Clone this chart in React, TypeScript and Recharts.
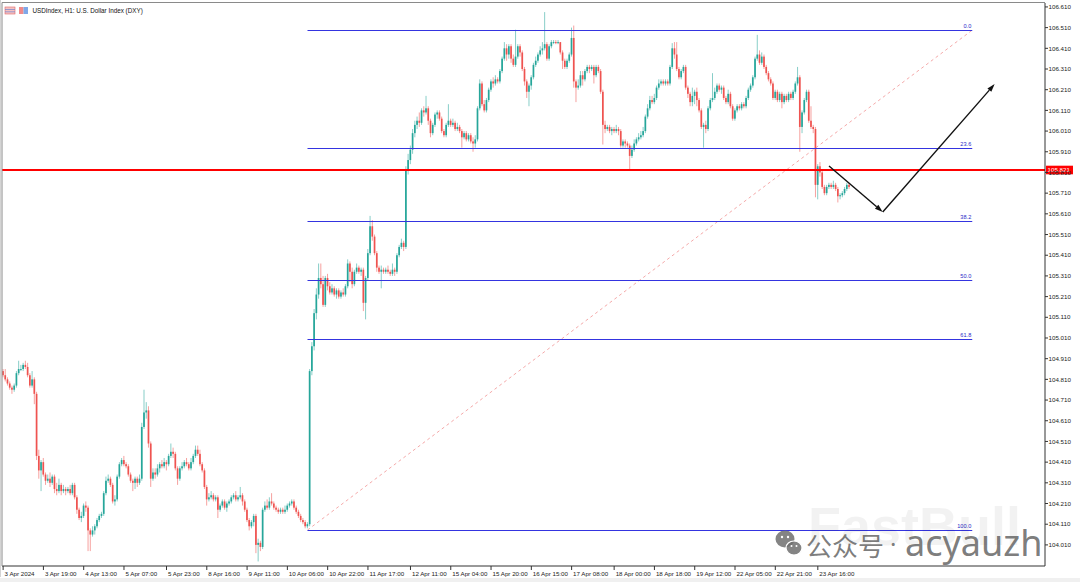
import React from 'react';
import { ComposedChart, Bar, XAxis, YAxis, ReferenceLine } from 'recharts';

// ---- OHLC data (H1 bars) ----
const opens = [
104.85,104.83,104.81,104.79,104.77,104.76,104.78,104.84,104.86,104.86,
104.88,104.87,104.83,104.78,104.81,104.74,104.44,104.37,104.41,104.35,
104.32,104.33,104.31,104.34,104.28,104.27,104.30,104.27,104.28,104.27,
104.28,104.26,104.30,104.24,104.18,104.14,104.15,104.20,104.19,104.08,
104.06,104.08,104.10,104.13,104.15,104.16,104.26,104.32,104.33,104.30,
104.22,104.23,104.34,104.40,104.42,104.40,104.39,104.35,104.32,104.31,
104.33,104.31,104.33,104.58,104.65,104.66,104.50,104.33,104.36,104.35,
104.38,104.40,104.39,104.41,104.40,104.44,104.46,104.45,104.38,104.33,
104.38,104.39,104.41,104.40,104.38,104.41,104.44,104.47,104.45,104.40,
104.37,104.29,104.23,104.24,104.25,104.23,104.24,104.18,104.20,104.22,
104.19,104.21,104.22,104.24,104.25,104.23,104.24,104.25,104.22,104.18,
104.13,104.10,104.12,104.15,104.01,104.02,104.00,104.18,104.20,104.19,
104.22,104.21,104.19,104.18,104.17,104.18,104.17,104.18,104.20,104.21,
104.22,104.19,104.17,104.15,104.13,104.12,104.10,104.11,104.85,104.97,
105.13,105.22,105.30,105.27,105.17,105.30,105.26,105.23,105.25,105.22,
105.24,105.21,105.23,105.22,105.26,105.37,105.33,105.27,105.33,105.35,
105.33,105.34,105.18,105.30,105.42,105.55,105.50,105.42,105.35,105.33,
105.34,105.33,105.34,105.33,105.32,105.34,105.33,105.41,105.45,105.47,
105.45,105.82,105.87,105.92,106.00,106.04,106.06,106.05,106.11,106.10,
106.12,106.06,106.00,106.04,106.09,106.10,106.07,106.01,105.99,106.04,
106.06,106.04,106.05,106.02,106.03,106.01,105.98,106.00,105.97,105.99,
105.96,105.95,105.97,106.12,106.24,106.14,106.11,106.16,106.21,106.25,
106.24,106.26,106.25,106.30,106.36,106.41,106.38,106.42,106.36,106.33,
106.37,106.42,106.39,106.31,106.25,106.20,106.23,106.27,106.33,106.35,
106.38,106.40,106.41,106.43,106.36,106.42,106.44,106.44,106.435,106.44,
106.39,106.35,106.32,106.35,106.38,106.46,106.25,106.22,106.23,106.28,
106.26,106.30,106.32,106.31,106.32,106.28,106.32,106.30,106.20,106.04,
106.02,106.03,106.01,106.02,106.01,106.02,106.01,105.94,105.96,105.95,
105.94,105.89,105.92,105.95,105.97,105.98,105.99,106.01,106.08,106.12,
106.16,106.15,106.17,106.22,106.24,106.25,106.24,106.25,106.24,106.32,
106.41,106.38,106.31,106.27,106.30,106.32,106.22,106.19,106.15,106.18,
106.20,106.16,106.11,106.03,106.04,106.02,106.12,106.16,106.17,106.20,
106.23,106.21,106.22,106.17,106.15,106.19,106.13,106.07,106.11,106.13,
106.12,106.14,106.13,106.17,106.21,106.23,106.27,106.36,106.38,106.34,
106.37,106.32,106.29,106.26,106.24,106.17,106.20,106.16,106.19,106.15,
106.18,106.16,106.19,106.17,106.20,106.24,106.27,106.03,106.10,106.16,
106.20,106.06,106.03,106.02,105.75,105.84,105.81,105.74,105.71,105.74,
105.75,105.74,105.75,105.73,105.695,105.70,105.71,105.73,105.75,
];
const highs = [
104.86,104.86,104.82,104.80,104.78,104.79,104.85,104.90,104.88,104.89,
104.90,104.89,104.84,104.85,104.82,104.75,104.47,104.42,104.43,104.36,
104.35,104.36,104.35,104.35,104.31,104.33,104.31,104.30,104.29,104.29,
104.30,104.31,104.31,104.25,104.19,104.17,104.21,104.22,104.20,104.09,
104.10,104.11,104.14,104.16,104.17,104.27,104.34,104.35,104.34,104.31,
104.25,104.35,104.41,104.43,104.44,104.41,104.40,104.36,104.33,104.34,
104.34,104.35,104.60,104.76,104.70,104.68,104.51,104.38,104.38,104.40,
104.41,104.42,104.43,104.42,104.45,104.50,104.48,104.46,104.39,104.39,
104.41,104.42,104.43,104.41,104.43,104.45,104.49,104.49,104.47,104.41,
104.38,104.30,104.26,104.27,104.26,104.25,104.25,104.21,104.23,104.23,
104.22,104.23,104.25,104.26,104.27,104.25,104.29,104.26,104.23,104.19,
104.14,104.13,104.16,104.16,104.04,104.03,104.19,104.22,104.23,104.24,
104.26,104.22,104.20,104.19,104.19,104.19,104.20,104.21,104.22,104.23,
104.23,104.20,104.18,104.16,104.14,104.13,104.12,104.86,104.99,105.15,
105.25,105.37,105.37,105.31,105.31,105.32,105.28,105.27,105.26,105.25,
105.25,105.24,105.25,105.27,105.39,105.38,105.35,105.34,105.37,105.36,
105.35,105.35,105.31,105.44,105.60,105.58,105.51,105.43,105.36,105.36,
105.35,105.35,105.36,105.34,105.37,105.35,105.42,105.46,105.49,105.48,
105.84,105.90,105.94,106.02,106.06,106.08,106.10,106.12,106.13,106.18,
106.13,106.07,106.05,106.10,106.11,106.11,106.08,106.02,106.05,106.14,
106.07,106.07,106.06,106.05,106.04,106.02,106.01,106.01,106.00,106.00,
105.98,105.99,106.13,106.26,106.25,106.16,106.17,106.22,106.26,106.27,
106.28,106.27,106.31,106.37,106.44,106.43,106.43,106.43,106.38,106.50,
106.43,106.43,106.40,106.32,106.26,106.24,106.28,106.34,106.37,106.39,
106.42,106.44,106.585,106.44,106.43,106.45,106.45,106.45,106.45,106.44,
106.40,106.36,106.36,106.39,106.51,106.52,106.26,106.26,106.30,106.30,
106.31,106.33,106.33,106.33,106.33,106.33,106.33,106.31,106.21,106.06,
106.04,106.04,106.03,106.03,106.04,106.03,106.02,105.97,105.97,105.96,
105.95,105.94,105.97,105.98,106.00,106.01,106.03,106.09,106.14,106.18,
106.18,106.19,106.23,106.26,106.26,106.26,106.26,106.26,106.33,106.435,
106.44,106.44,106.32,106.31,106.33,106.33,106.23,106.20,106.22,106.21,
106.22,106.17,106.12,106.05,106.06,106.13,106.17,106.29,106.22,106.24,
106.24,106.23,106.23,106.18,106.21,106.20,106.14,106.12,106.14,106.14,
106.15,106.15,106.18,106.22,106.24,106.28,106.37,106.475,106.40,106.39,
106.38,106.33,106.30,106.27,106.25,106.21,106.21,106.20,106.20,106.19,
106.19,106.20,106.20,106.21,106.25,106.32,106.28,106.11,106.17,106.21,
106.21,106.13,106.04,106.03,105.85,105.86,105.82,105.75,105.75,105.76,
105.76,105.77,105.76,105.74,105.71,105.72,105.74,105.76,105.76,
];
const lows = [
104.82,104.80,104.78,104.76,104.74,104.75,104.77,104.83,104.85,104.85,
104.86,104.82,104.77,104.77,104.69,104.42,104.33,104.27,104.34,104.30,
104.31,104.29,104.30,104.26,104.25,104.26,104.25,104.26,104.25,104.26,
104.25,104.25,104.23,104.16,104.13,104.12,104.14,104.17,103.98,103.98,
104.05,104.06,104.09,104.12,104.14,104.15,104.25,104.31,104.29,104.21,
104.20,104.22,104.33,104.39,104.39,104.38,104.34,104.31,104.27,104.28,
104.29,104.30,104.32,104.57,104.62,104.48,104.29,104.32,104.33,104.34,
104.36,104.38,104.38,104.37,104.39,104.43,104.43,104.37,104.30,104.32,
104.37,104.38,104.39,104.37,104.37,104.40,104.43,104.44,104.39,104.36,
104.28,104.20,104.22,104.23,104.22,104.22,104.14,104.17,104.19,104.18,
104.17,104.20,104.21,104.23,104.22,104.22,104.23,104.20,104.17,104.12,
104.08,104.09,104.10,103.97,103.93,103.98,103.99,104.17,104.18,104.18,
104.20,104.18,104.17,104.16,104.16,104.16,104.16,104.17,104.19,104.20,
104.18,104.16,104.14,104.12,104.11,104.09,104.09,104.10,104.83,104.95,
105.10,105.20,105.25,105.16,105.16,105.24,105.22,105.22,105.21,105.20,
105.20,105.20,105.21,105.21,105.25,105.28,105.25,105.26,105.32,105.32,
105.31,105.14,105.10,105.29,105.41,105.48,105.41,105.33,105.32,105.25,
105.32,105.32,105.32,105.31,105.31,105.31,105.32,105.40,105.44,105.43,
105.44,105.80,105.85,105.90,105.98,106.02,106.03,106.04,106.08,106.09,
106.04,105.98,105.99,106.03,106.07,106.06,106.00,105.98,105.98,106.03,
106.03,106.03,106.01,106.01,106.00,105.93,105.97,105.96,105.96,105.95,
105.91,105.93,105.96,106.11,106.13,106.10,106.10,106.15,106.20,106.22,
106.23,106.24,106.24,106.29,106.35,106.35,106.36,106.34,106.32,106.32,
106.36,106.37,106.30,106.23,106.17,106.13,106.21,106.26,106.32,106.34,
106.37,106.38,106.40,106.35,106.35,106.41,106.43,106.43,106.43,106.38,
106.31,106.31,106.31,106.34,106.37,106.22,106.15,106.21,106.22,106.23,
106.25,106.29,106.29,106.30,106.24,106.27,106.29,106.19,105.945,106.00,
106.01,106.00,105.99,106.00,106.00,105.99,105.93,105.93,105.93,105.93,
105.825,105.88,105.91,105.94,105.96,105.97,105.98,106.00,106.07,106.11,
106.14,106.14,106.16,106.21,106.23,106.23,106.23,106.23,106.23,106.31,
106.36,106.30,106.26,106.26,106.29,106.21,106.17,106.13,106.13,106.14,
106.13,106.10,106.02,105.93,106.00,106.01,106.11,106.15,106.16,106.19,
106.20,106.19,106.16,106.14,106.14,106.12,106.06,106.06,106.10,106.11,
106.11,106.12,106.12,106.16,106.20,106.22,106.26,106.35,106.33,106.33,
106.31,106.28,106.25,106.23,106.16,106.16,106.15,106.15,106.12,106.14,
106.15,106.15,106.16,106.16,106.19,106.23,105.91,106.00,106.09,106.15,
106.05,106.02,106.00,105.69,105.68,105.79,105.73,105.70,105.70,105.73,
105.73,105.73,105.72,105.665,105.68,105.69,105.70,105.72,105.73,
];
const closes = [
104.83,104.81,104.79,104.77,104.76,104.78,104.84,104.86,104.86,104.88,
104.87,104.83,104.78,104.81,104.74,104.44,104.37,104.41,104.35,104.32,
104.33,104.31,104.34,104.28,104.27,104.30,104.27,104.28,104.27,104.28,
104.26,104.30,104.24,104.18,104.14,104.15,104.20,104.19,104.08,104.06,
104.08,104.10,104.13,104.15,104.16,104.26,104.32,104.33,104.30,104.22,
104.23,104.34,104.40,104.42,104.40,104.39,104.35,104.32,104.31,104.33,
104.31,104.33,104.58,104.65,104.66,104.50,104.33,104.36,104.35,104.38,
104.40,104.39,104.41,104.40,104.44,104.46,104.45,104.38,104.33,104.38,
104.39,104.41,104.40,104.38,104.41,104.44,104.47,104.45,104.40,104.37,
104.29,104.23,104.24,104.25,104.23,104.24,104.18,104.20,104.22,104.19,
104.21,104.22,104.24,104.25,104.23,104.24,104.25,104.22,104.18,104.13,
104.10,104.12,104.15,104.01,104.02,104.00,104.18,104.20,104.19,104.22,
104.21,104.19,104.18,104.17,104.18,104.17,104.18,104.20,104.21,104.22,
104.19,104.17,104.15,104.13,104.12,104.10,104.11,104.85,104.97,105.13,
105.22,105.30,105.27,105.17,105.30,105.26,105.23,105.25,105.22,105.24,
105.21,105.23,105.22,105.26,105.37,105.33,105.27,105.33,105.35,105.33,
105.34,105.18,105.30,105.42,105.55,105.50,105.42,105.35,105.33,105.34,
105.33,105.34,105.33,105.32,105.34,105.33,105.41,105.45,105.47,105.45,
105.82,105.87,105.92,106.00,106.04,106.06,106.05,106.11,106.10,106.12,
106.06,106.00,106.04,106.09,106.10,106.07,106.01,105.99,106.04,106.06,
106.04,106.05,106.02,106.03,106.01,105.98,106.00,105.97,105.99,105.96,
105.95,105.97,106.12,106.24,106.14,106.11,106.16,106.21,106.25,106.24,
106.26,106.25,106.30,106.36,106.41,106.38,106.42,106.36,106.33,106.37,
106.42,106.39,106.31,106.25,106.20,106.23,106.27,106.33,106.35,106.38,
106.40,106.41,106.43,106.36,106.42,106.44,106.44,106.435,106.44,106.39,
106.35,106.32,106.35,106.38,106.46,106.25,106.22,106.23,106.28,106.26,
106.30,106.32,106.31,106.32,106.28,106.32,106.30,106.20,106.04,106.02,
106.03,106.01,106.02,106.01,106.02,106.01,105.94,105.96,105.95,105.94,
105.89,105.92,105.95,105.97,105.98,105.99,106.01,106.08,106.12,106.16,
106.15,106.17,106.22,106.24,106.25,106.24,106.25,106.24,106.32,106.41,
106.38,106.31,106.27,106.30,106.32,106.22,106.19,106.15,106.18,106.20,
106.16,106.11,106.03,106.04,106.02,106.12,106.16,106.17,106.20,106.23,
106.21,106.22,106.17,106.15,106.19,106.13,106.07,106.11,106.13,106.12,
106.14,106.13,106.17,106.21,106.23,106.27,106.36,106.38,106.34,106.37,
106.32,106.29,106.26,106.24,106.17,106.20,106.16,106.19,106.15,106.18,
106.16,106.19,106.17,106.20,106.24,106.27,106.03,106.10,106.16,106.20,
106.06,106.03,106.02,105.75,105.84,105.81,105.74,105.71,105.74,105.75,
105.74,105.75,105.73,105.695,105.70,105.71,105.73,105.75,105.74,
];

// ---- axis labels ----
const timeLabels = ['3 Apr 2024','3 Apr 19:00','4 Apr 13:00','5 Apr 07:00','5 Apr 23:00','8 Apr 16:00','9 Apr 11:00','10 Apr 06:00','10 Apr 22:00','11 Apr 17:00','12 Apr 11:00','15 Apr 04:00','15 Apr 20:00','16 Apr 15:00','17 Apr 08:00','18 Apr 00:00','18 Apr 18:00','19 Apr 12:00','22 Apr 05:00','22 Apr 21:00','23 Apr 16:00'];
const labelBars = [0,18,36,54,73,91,109,127,145,163,182,200,218,236,254,273,291,309,327,345,364];
const priceTicks = [104.01,104.11,104.21,104.31,104.41,104.51,104.61,104.71,104.81,104.91,105.01,105.11,105.21,105.31,105.41,105.51,105.61,105.71,105.81,105.91,106.01,106.11,106.21,106.31,106.41,106.51,106.61];

// ---- annotations ----
const fibRatios = [0, 23.6, 38.2, 50, 61.8, 100];
const fibHigh = 106.498;
const fibLow = 104.082;
const fibStartBar = 136;
const fibEndBar = 433;
const currentPrice = 105.821;
const arrowPoints = [
  { bar: 369, price: 105.841 },
  { bar: 393, price: 105.619 },
  { bar: 443, price: 106.237 },
];

const SLOTS = 466;
const UP = '#26a69a';
const DOWN = '#ef5350';
const FONT = '"Liberation Sans", Arial, sans-serif';

const data = Array.from({ length: SLOTS }, (_, i) =>
  i < closes.length
    ? { i, range: [lows[i], highs[i]], o: opens[i], h: highs[i], l: lows[i], c: closes[i] }
    : { i }
);

const snap = (v: number) => Math.round(v) + 0.5;

const Candle = (props: any) => {
  const { x, y, width, height, payload } = props;
  if (!payload || payload.c === undefined || x === undefined) return <g />;
  const { o, h, l, c } = payload;
  const top = Math.min(y, y + height);
  const hh = Math.abs(height);
  const ratio = h === l ? 0 : hh / (h - l);
  const yO = top + (h - o) * ratio;
  const yC = top + (h - c) * ratio;
  const color = c >= o ? UP : DOWN;
  const cx = x + width / 2;
  const bTop = Math.min(yO, yC);
  const bH = Math.max(Math.abs(yO - yC), 0.9);
  return (
    <g>
      <line x1={cx} x2={cx} y1={top} y2={top + hh} stroke={color} strokeOpacity={0.55} strokeWidth={1} />
      <rect x={cx - 0.85} y={bTop} width={1.7} height={bH} fill={color} />
    </g>
  );
};

const XTick = (props: any) => {
  const { x, y, payload } = props;
  const idx = labelBars.indexOf(payload.value);
  const label = idx >= 0 ? timeLabels[idx] : '';
  return (
    <g>
      <line x1={x} x2={x} y1={y} y2={y + 4} stroke="#333" strokeWidth={1} />
      <text x={x + 1.5} y={y + 9.8} fontSize={6.2} fill="#222" fontFamily={FONT}>{label}</text>
    </g>
  );
};

const YTick = (props: any) => {
  const { x, y, payload } = props;
  return (
    <g>
      <line x1={x} x2={x + 3} y1={y} y2={y} stroke="#333" strokeWidth={1} />
      <text x={x + 3.5} y={y + 2.2} fontSize={6.2} fill="#222" fontFamily={FONT}>{Number(payload.value).toFixed(3)}</text>
    </g>
  );
};

const fibShape = (label: string) => (p: any) => {
  const yy = snap(p.y1);
  return (
    <g>
      <line x1={p.x1} y1={yy} x2={p.x2} y2={yy} stroke="#3434e0" strokeWidth={1} />
      <text x={Math.max(p.x1, p.x2) - 1} y={yy - 3} textAnchor="end" fontSize={5.6} fill="#2a2ac8" fontFamily={FONT}>{label}</text>
    </g>
  );
};

const priceShape = (p: any) => {
  const right = Math.max(p.x1, p.x2);
  const yy = Math.round(p.y1);
  return (
    <g>
      <line x1={p.x1} y1={yy} x2={p.x2} y2={yy} stroke="#ff0000" strokeWidth={2} />
      <rect x={right + 1} y={yy - 4.3} width={27} height={8.6} fill="#ff0000" />
      <text x={right + 2.5} y={yy + 2.2} fontSize={6.2} fill="#ffffff" fontFamily={FONT}>{currentPrice.toFixed(3)}</text>
    </g>
  );
};

const arrowShape = (p: any) => {
  const ang = Math.atan2(p.y2 - p.y1, p.x2 - p.x1);
  const L = 8;
  const W = 2.6;
  const bx = p.x2 - L * Math.cos(ang);
  const by = p.y2 - L * Math.sin(ang);
  const nx = -Math.sin(ang) * W;
  const ny = Math.cos(ang) * W;
  return (
    <g>
      <line x1={p.x1} y1={p.y1} x2={bx} y2={by} stroke="#111" strokeWidth={1.4} />
      <polygon points={`${p.x2},${p.y2} ${bx + nx},${by + ny} ${bx - nx},${by - ny}`} fill="#111" />
    </g>
  );
};

const diagShape = (p: any) => (
  <line x1={p.x1} y1={p.y1} x2={p.x2} y2={p.y2} stroke="#f08c8c" strokeOpacity={0.75} strokeWidth={1} strokeDasharray="3 3" />
);

export default function App() {
  const fibPrice = (r: number) => fibHigh - ((fibHigh - fibLow) * r) / 100;
  return (
    <div style={{ position: 'absolute', left: 0, top: 0, width: 1080, height: 582, background: '#ffffff', overflow: 'hidden' }}>
      <ComposedChart
        width={1080}
        height={582}
        data={data}
        margin={{ top: 3, right: 0, bottom: 0, left: 2 }}
        barCategoryGap={0}
        barGap={0}
      >
        <XAxis
          dataKey="i"
          type="category"
          ticks={labelBars}
          interval={0}
          height={16}
          tickLine={false}
          tickSize={0}
          tickMargin={0}
          axisLine={{ stroke: '#333' }}
          tick={(p: any) => <XTick {...p} />}
        />
        <YAxis
          orientation="right"
          type="number"
          domain={[103.908, 106.629]}
          allowDataOverflow
          ticks={priceTicks}
          interval={0}
          width={35}
          tickLine={false}
          tickSize={0}
          tickMargin={0}
          axisLine={{ stroke: '#333' }}
          tick={(p: any) => <YTick {...p} />}
        />
        <ReferenceLine
          segment={[{ x: fibStartBar, y: fibLow }, { x: fibEndBar, y: fibHigh }]}
          ifOverflow="visible"
          shape={diagShape}
        />
        {fibRatios.map((r) => (
          <ReferenceLine
            key={r}
            segment={[{ x: fibStartBar, y: fibPrice(r) }, { x: fibEndBar, y: fibPrice(r) }]}
            ifOverflow="visible"
            shape={fibShape(r.toFixed(1))}
          />
        ))}
        <Bar dataKey="range" shape={Candle} isAnimationActive={false} />
        <ReferenceLine y={currentPrice} ifOverflow="visible" shape={priceShape} />
        <ReferenceLine
          segment={[{ x: arrowPoints[0].bar, y: arrowPoints[0].price }, { x: arrowPoints[1].bar, y: arrowPoints[1].price }]}
          ifOverflow="visible"
          shape={arrowShape}
        />
        <ReferenceLine
          segment={[{ x: arrowPoints[1].bar, y: arrowPoints[1].price }, { x: arrowPoints[2].bar, y: arrowPoints[2].price }]}
          ifOverflow="visible"
          shape={arrowShape}
        />
      </ComposedChart>
      <svg width={1080} height={582} style={{ position: 'absolute', left: 0, top: 0, pointerEvents: 'none' }}>
        {/* frame */}
        <line x1={0.5} y1={0} x2={0.5} y2={577} stroke="#d4d4d4" />
        <line x1={2} y1={2.5} x2={2} y2={566} stroke="#8a8a8a" />
        <line x1={2} y1={2.5} x2={1045} y2={2.5} stroke="#8a8a8a" />
        <rect x={0} y={578} width={1080} height={4} fill="#f0f0f0" />
        {/* title */}
        <rect x={5} y={7} width={10} height={7} fill="#f6c2c2" stroke="#e06666" strokeWidth={0.6} />
        <line x1={5} y1={9.5} x2={15} y2={9.5} stroke="#5a7bd0" strokeWidth={0.6} />
        <line x1={5} y1={11.8} x2={15} y2={11.8} stroke="#5a7bd0" strokeWidth={0.6} />
        <rect x={19} y={7} width={4.5} height={7} fill="#f08a8a" />
        <rect x={23.5} y={7} width={4.5} height={7} fill="#7fa8e8" />
        <text x={32.5} y={12.6} fontSize={6.3} fill="#111" fontFamily={FONT}>USDIndex, H1:  U.S. Dollar Index (DXY)</text>
        {/* watermark */}
        <text x={808} y={545} fontSize={54} fontWeight="bold" fill="#000" fillOpacity={0.05} fontFamily={FONT}>FastBull</text>
        <g fill="#6e6e6e" fillOpacity={0.85}>
          <ellipse cx={785} cy={539} rx={9.5} ry={8.5} />
          <ellipse cx={794} cy={548} rx={8} ry={7} stroke="#fff" strokeWidth={1.2} />
        </g>
        <circle cx={782} cy={537} r={1.2} fill="#fff" />
        <circle cx={788} cy={537} r={1.2} fill="#fff" />
        <circle cx={791.5} cy={546} r={1} fill="#fff" />
        <circle cx={796.5} cy={546} r={1} fill="#fff" />
        <text x={806} y={556} fontSize={26} fill="#5a5a5a" fillOpacity={0.8} fontFamily='"Noto Sans CJK SC", sans-serif'>公众号</text>
        <text x={890} y={553} fontSize={24} fill="#5a5a5a" fillOpacity={0.8} fontFamily='"Noto Sans", sans-serif'>·</text>
        <text x={905} y={556} fontSize={36} fill="#5a5a5a" fillOpacity={0.8} fontFamily='"Noto Sans", sans-serif'>acyauzh</text>
      </svg>
    </div>
  );
}
